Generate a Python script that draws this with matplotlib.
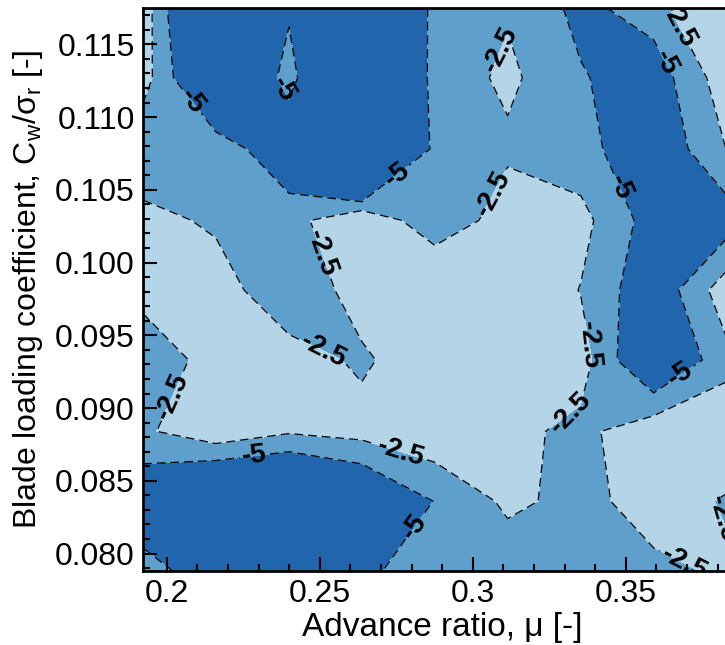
import numpy as np
import matplotlib
matplotlib.use("Agg")
import matplotlib.pyplot as plt
from matplotlib.ticker import MultipleLocator, FuncFormatter, FormatStrFormatter

plt.rcParams['font.family'] = ['Liberation Sans', 'DejaVu Sans']
plt.rcParams['mathtext.fontset'] = 'custom'
plt.rcParams['mathtext.rm'] = 'Liberation Sans'
plt.rcParams['mathtext.it'] = 'Liberation Sans:italic'
plt.rcParams['mathtext.default'] = 'regular'

# Test grid: advance ratio (columns) and blade loading coefficient (rows)
advance_ratio = [0.1922, 0.2160, 0.2399, 0.2637, 0.2876, 0.3114, 0.3353, 0.3591, 0.3830]
loading_coeff = [0.0788, 0.0836, 0.0884, 0.0933, 0.0981, 0.1029, 0.1078, 0.1127, 0.1175]

# Measured change at each grid point (rows follow loading_coeff, bottom to top)
delta = np.array([
    [-3.82, -6.7, -8.0, -5.4, -4.0, -4.0, -4.0, -3.0, -2.2],
    [-7.4, -11.0, -11.8, -8.9, -4.9, -2.0, -3.2, -1.5, -2.7],
    [-2.92, -0.7, -2.2, -1.6, -0.6, -1.8, -3.15, -0.8, -0.9],
    [-4.5, -1.3, -1.4, -2.9, -0.8, -0.5, -1.4, -8.6, -3.2],
    [-1.5, -1.3, -4.4, -1.4, 1.6, 0.0, -2.6, -7.1, -1.0],
    [-1.7, -2.9, -3.65, 0.3, -4.8, -1.0, -1.7, -6.2, -6.4],
    [-4.5, -3.4, -7.2, -20.0, -3.9, -3.0, -4.0, -7.3, -2.45],
    [-1.4, -10.0, -4.05, -12.0, -4.2, -1.93, -4.78, -6.5, -1.0],
    [-1.0, -13.0, -5.35, -8.0, -4.67, -2.8, -5.7, -3.76, 2.0],
])

fill_levels = [-25, -5, -2.5, 5]
line_levels = [-5, -2.5]
fill_colors = ['#2166ac', '#5e9fcb', '#b4d4e8']

# Where the contour labels are placed (advance ratio, loading coefficient)
label_spots = [
    (0.2059, 0.1107), (0.2386, 0.1120), (0.2761, 0.1058), (0.3464, 0.1050),
    (0.3637, 0.1138), (0.3686, 0.0921), (0.2288, 0.0866), (0.2794, 0.0821),
    (0.3088, 0.1147), (0.3065, 0.1048), (0.2461, 0.1003), (0.2533, 0.0949),
    (0.2010, 0.0909), (0.2768, 0.0871), (0.3301, 0.0902), (0.3373, 0.0943),
    (0.3742, 0.1171), (0.3800, 0.0822), (0.3700, 0.0797),
]

fig = plt.figure(figsize=(7.25, 6.45), dpi=100)
ax = fig.add_axes([143 / 725, 74 / 645, 599 / 725, 563 / 645])

X, Y = np.meshgrid(advance_ratio, loading_coeff)
ax.contourf(X, Y, delta, levels=fill_levels, colors=fill_colors)
cs = ax.contour(X, Y, delta, levels=line_levels, colors='k',
                linewidths=0.9, linestyles=[(0, (7, 4))])

ax.set_xlim(0.1922, 0.388)
ax.set_ylim(0.0788, 0.1175)

labels = ax.clabel(cs, fmt='%g', fontsize=20, inline=True, inline_spacing=3,
                   manual=label_spots)
for t in labels:
    t.set_fontweight('bold')

ax.xaxis.set_major_locator(MultipleLocator(0.05))
ax.xaxis.set_minor_locator(MultipleLocator(0.01))
ax.yaxis.set_major_locator(MultipleLocator(0.005))
ax.yaxis.set_minor_locator(MultipleLocator(0.001))
ax.xaxis.set_major_formatter(FuncFormatter(lambda v, p: f'{v:g}'))
ax.yaxis.set_major_formatter(FormatStrFormatter('%.3f'))

ax.tick_params(which='both', direction='in', top=False, right=True, width=1.5)
ax.tick_params(which='major', length=10, labelsize=23, pad=6)
ax.tick_params(which='minor', length=5)
for s in ax.spines.values():
    s.set_linewidth(2)

ax.set_xlabel('Advance ratio, μ [-]', fontsize=24, labelpad=2)
ax.set_ylabel('Blade loading coefficient, C$_w$/σ$_r$ [-]', fontsize=23, labelpad=7)

fig.savefig('out.png', dpi=100)
